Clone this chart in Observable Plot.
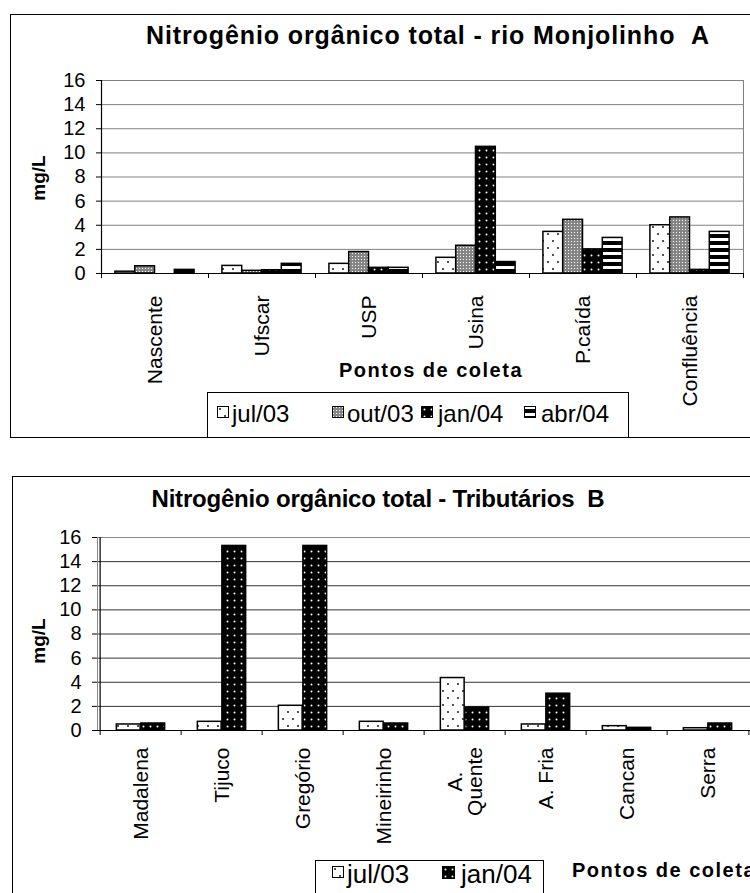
<!DOCTYPE html>
<html><head><meta charset="utf-8">
<script src="https://cdn.jsdelivr.net/npm/d3@7"></script>
<script src="https://cdn.jsdelivr.net/npm/@observablehq/plot@0.6"></script>
<style>
html,body{margin:0;padding:0;background:#fff;overflow:hidden;width:750px;height:893px;}
body{position:relative;font-family:"Liberation Sans",Arial,sans-serif;color:#000;}
.box{position:absolute;border:1px solid #000;box-sizing:border-box;}
.t{position:absolute;white-space:nowrap;line-height:1;}
.plotwrap{position:absolute;left:0;}
.sw{position:absolute;}
</style></head><body>
<svg width="0" height="0" style="position:absolute;left:0;top:0">
<defs>
<pattern id="pJul" patternUnits="userSpaceOnUse" width="10" height="14"><rect width="10" height="14" fill="#fff"/><circle cx="3" cy="3" r="0.9" fill="#000"/><circle cx="8" cy="10" r="0.9" fill="#000"/></pattern>
<pattern id="pOut" patternUnits="userSpaceOnUse" width="3" height="3"><rect width="3" height="3" fill="#858585"/><rect x="1" y="1" width="1" height="1" fill="#fff"/></pattern>
<pattern id="pJan" patternUnits="userSpaceOnUse" width="7" height="7"><rect width="7" height="7" fill="#000"/><circle cx="3.5" cy="3.5" r="1" fill="#fff"/></pattern>
<pattern id="pAbr" patternUnits="userSpaceOnUse" width="7" height="7"><rect width="7" height="7" fill="#fff"/><rect y="3" width="7" height="4" fill="#000"/></pattern>
</defs></svg>

<div class="box" style="left:10px;top:14px;width:800px;height:424px;"></div>
<div class="box" style="left:12px;top:476px;width:800px;height:500px;"></div>

<div id="chartA" class="plotwrap" style="top:0px;width:750px;"></div>
<div id="chartB" class="plotwrap" style="top:450px;width:770px;"></div>

<div class="t" style="left:0;width:856px;text-align:center;top:22.8px;font-size:25px;font-weight:bold;letter-spacing:0.9px;">Nitrogênio orgânico total - rio Monjolinho&nbsp;&nbsp;A</div>
<div class="t" style="left:0;width:756px;text-align:center;top:486.5px;font-size:24px;font-weight:bold;letter-spacing:-0.2px;">Nitrogênio orgânico total - Tributários&nbsp;&nbsp;B</div>

<div class="t" style="left:38px;top:178px;font-size:19px;font-weight:bold;transform:translate(-50%,-50%) rotate(-90deg);">mg/L</div>
<div class="t" style="left:38px;top:641px;font-size:19px;font-weight:bold;transform:translate(-50%,-50%) rotate(-90deg);">mg/L</div>

<div class="t" style="left:0;width:862px;text-align:center;top:360px;font-size:20px;font-weight:bold;letter-spacing:1.5px;">Pontos de coleta</div>
<div class="t" style="left:572px;top:860px;font-size:20px;font-weight:bold;letter-spacing:1.5px;">Pontos de coleta</div>

<div class="box" style="left:207px;top:392px;width:422px;height:46px;background:#fff;"></div>
<div id="legendA"></div>
<div class="box" style="left:315px;top:860px;width:229px;height:60px;background:#fff;"></div>
<div id="legendB"></div>

<script>
// ---------- data ----------
const topCategories = ["Nascente", "Ufscar", "USP", "Usina", "P.caída", "Confluência"];
const topSeries = ["jul/03", "out/03", "jan/04", "abr/04"];
const topJul03 = [0.15, 0.63, 0.8, 1.3, 3.45, 4.0];
const topOut03 = [0.6, 0.22, 1.78, 2.3, 4.45, 4.65];
const topJan04 = [0, 0.27, 0.47, 10.5, 2.0, 0.3];
const topAbr04 = [0.3, 0.8, 0.47, 0.95, 2.95, 3.45];

const botCategories = ["Madalena", "Tijuco", "Gregório", "Mineirinho", "A. Quente", "A. Fria", "Cancan", "Serra"];
const botSeries = ["jul/03", "jan/04"];
const botJul03 = [0.5, 0.72, 2.05, 0.72, 4.35, 0.5, 0.36, 0.19];
const botJan04 = [0.58, 15.3, 15.3, 0.58, 1.9, 3.05, 0.22, 0.58];
const botWrapped = {"A. Quente": ["A.", "Quente"]};

const yTicks = [0, 2, 4, 6, 8, 10, 12, 14, 16];
const patternOf = {"jul/03": "url(#pJul)", "out/03": "url(#pOut)", "jan/04": "url(#pJan)", "abr/04": "url(#pAbr)"};

function makeChart(o) {
  const rows = [];
  o.categories.forEach((c, i) => o.series.forEach((s, j) => rows.push({cat: c, series: s, value: o.values[j][i]})));
  const step = (o.width - o.ml - o.mr) / o.categories.length;
  const pad = step * o.padFrac;
  const bw = (step - 2 * pad) / o.series.length;
  const tickLen = 5 / ((o.height - o.mt - o.mb) / 16);
  const wrapped = o.wrapped || {};
  const plainTicks = o.categories.filter(c => !(c in wrapped));
  const wrappedCats = o.categories.filter(c => c in wrapped);
  const marks = [
    Plot.ruleY(yTicks.slice(1), {stroke: o.gridColor, strokeWidth: 1}),
    Plot.frame({stroke: o.frameColor, strokeWidth: 1}),
  ];
  o.series.forEach((s, j) => {
    marks.push(Plot.barY(rows.filter(d => d.series === s && d.value > 0), {
      x: "cat", y: "value", fill: patternOf[s], stroke: "#000", strokeWidth: 1.5,
      insetLeft: pad + j * bw, insetRight: step - pad - (j + 1) * bw
    }));
  });
  marks.push(
    Plot.ruleY([0], {stroke: "#000", strokeWidth: 1.2}),
    Plot.ruleX([o.categories[0]], {x: d => d, y1: 0, y2: 16, dx: -step / 2, stroke: "#000", strokeWidth: 1.2}),
    Plot.ruleX(o.categories, {x: d => d, y1: 0, y2: -tickLen, dx: -step / 2, stroke: "#000"}),
    Plot.ruleX([o.categories[o.categories.length - 1]], {x: d => d, y1: 0, y2: -tickLen, dx: step / 2, stroke: "#000"}),
    Plot.axisY({ticks: yTicks, tickSize: 5, tickPadding: 11, fontSize: 20, label: null}),
    Plot.axisX({ticks: plainTicks, tickSize: 0, tickPadding: o.tickPadding, tickRotate: -90, fontSize: 21, label: null})
  );
  wrappedCats.forEach(c => {
    const lines = wrapped[c];
    lines.forEach((line, k) => {
      marks.push(Plot.text([c], {
        x: d => d, text: () => line, frameAnchor: "bottom", dy: o.wrapDy,
        dx: (k - (lines.length - 1) / 2) * 20,
        rotate: -90, textAnchor: "middle", lineAnchor: "middle", fontSize: 21, fill: "#000"
      }));
    });
  });
  return Plot.plot({
    width: o.width, height: o.height,
    marginLeft: o.ml, marginRight: o.mr, marginTop: o.mt, marginBottom: o.mb,
    x: {type: "band", domain: o.categories, padding: 0},
    y: {domain: [0, 16]},
    style: {background: "transparent", fontFamily: "'Liberation Sans', Arial, sans-serif", maxWidth: "none", overflow: "visible", color: "#000"},
    marks
  });
}

document.getElementById("chartA").append(makeChart({
  categories: topCategories, series: topSeries, values: [topJul03, topOut03, topJan04, topAbr04],
  width: 750, height: 440, ml: 101, mr: 7, mt: 80, mb: 167, padFrac: 0.13,
  gridColor: "#808080", frameColor: "#808080", tickPadding: 22
}));
document.getElementById("chartB").append(makeChart({
  categories: botCategories, series: botSeries, values: [botJul03, botJan04],
  width: 770, height: 450, ml: 97, mr: 19, mt: 87, mb: 170, padFrac: 0.2,
  gridColor: "#333333", frameColor: "#888888", tickPadding: 17,
  wrapped: botWrapped, wrapDy: 51
}));

function legend(id, items) {
  const host = document.getElementById(id);
  items.forEach(it => {
    const sw = document.createElementNS("http://www.w3.org/2000/svg", "svg");
    sw.setAttribute("width", it.size); sw.setAttribute("height", it.size);
    sw.setAttribute("class", "sw");
    sw.style.left = it.sx + "px"; sw.style.top = it.sy + "px";
    sw.innerHTML = `<rect x="0.5" y="0.5" width="${it.size - 1}" height="${it.size - 1}" fill="${patternOf[it.name]}" stroke="#000" stroke-width="1"/>`;
    host.append(sw);
    const t = document.createElement("div");
    t.className = "t";
    t.style.left = it.tx + "px"; t.style.top = it.ty + "px"; t.style.fontSize = it.fs + "px";
    t.textContent = it.name;
    host.append(t);
  });
}
legend("legendA", [
  {name: topSeries[0], sx: 217, sy: 406, size: 12, tx: 232, ty: 401.5, fs: 24},
  {name: topSeries[1], sx: 332, sy: 406, size: 12, tx: 347, ty: 401.5, fs: 24},
  {name: topSeries[2], sx: 421, sy: 406, size: 12, tx: 438, ty: 401.5, fs: 24},
  {name: topSeries[3], sx: 524, sy: 406, size: 12, tx: 541, ty: 401.5, fs: 24}
]);
legend("legendB", [
  {name: botSeries[0], sx: 332, sy: 866, size: 12, tx: 347, ty: 861, fs: 26},
  {name: botSeries[1], sx: 442, sy: 866, size: 13, tx: 461, ty: 861, fs: 26}
]);
</script>
</body></html>
